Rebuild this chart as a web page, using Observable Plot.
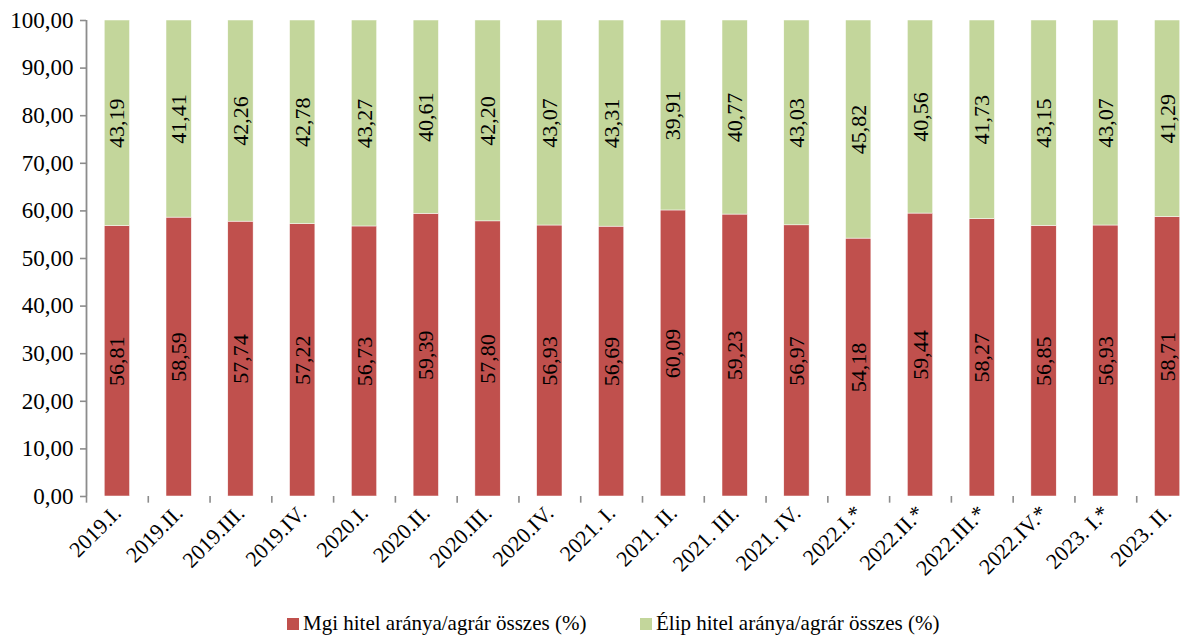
<!DOCTYPE html>
<html>
<head>
<meta charset="utf-8">
<script src="https://cdn.jsdelivr.net/npm/d3@7"></script>
<script src="https://cdn.jsdelivr.net/npm/@observablehq/plot@0.6"></script>
</head>
<body style="margin:0;background:#fff">
<div id="chart"></div>
<div id="legend" style="position:relative;height:35px;font-family:'Liberation Serif';font-size:21px;color:#000"></div>
<script>
const categories = ["2019.I.","2019.II.","2019.III.","2019.IV.","2020.I.","2020.II.","2020.III.","2020.IV.","2021. I.","2021. II.","2021. III.","2021. IV.","2022.I.*","2022.II.*","2022.III.*","2022.IV.*","2023. I.*","2023. II."];
const mgi = [56.81,58.59,57.74,57.22,56.73,59.39,57.80,56.93,56.69,60.09,59.23,56.97,54.18,59.44,58.27,56.85,56.93,58.71];
const elip = [43.19,41.41,42.26,42.78,43.27,40.61,42.20,43.07,43.31,39.91,40.77,43.03,45.82,40.56,41.73,43.15,43.07,41.29];
const seriesNames = ["Mgi hitel aránya/agrár összes (%)", "Élip hitel aránya/agrár összes (%)"];
const colors = ["#C0504D", "#C3D69B"];
const yTicks = [0,10,20,30,40,50,60,70,80,90,100];

const rows = [];
categories.forEach((c, i) => {
  rows.push({cat: c, series: seriesNames[0], y1: 0, y2: mgi[i], v: mgi[i]});
  rows.push({cat: c, series: seriesNames[1], y1: mgi[i], y2: mgi[i] + elip[i], v: elip[i]});
});

const fmt = v => v.toFixed(2).replace(".", ",");
const W = 1185, x0 = 86, x1 = 1198;
const step = (x1 - x0) / categories.length;
const FONT = "Liberation Serif";

const plot = Plot.plot({
  width: W,
  height: 600,
  marginTop: 20,
  marginBottom: 104,
  marginLeft: x0,
  marginRight: 0,
  style: {fontFamily: FONT, fontSize: "21px", color: "#000", background: "#fff", overflow: "hidden"},
  x: {domain: categories, range: [x0, x1], paddingInner: 0.59, paddingOuter: 0.295, round: false, label: null},
  y: {domain: [0, 100], label: null},
  color: {domain: seriesNames, range: colors},
  marks: [
    Plot.ruleY(yTicks, {x1: categories[0], x2: categories[categories.length - 1], insetLeft: -step / 2, insetRight: -step / 2, stroke: "#8c8c8c", strokeWidth: 1.6}),
    Plot.barY(rows, {x: "cat", y1: "y1", y2: "y2", fill: "series", stroke: "#fff", strokeWidth: 0.5}),
    Plot.text(rows, {x: "cat", y: d => (d.y1 + d.y2) / 2, text: d => fmt(d.v), rotate: -90, fontSize: 22, fill: "#000", fontFamily: FONT}),
    Plot.ruleX(categories, {x: d => d, dx: -step / 2, y1: 0, y2: -1.4, stroke: "#8c8c8c", strokeWidth: 1.6}),
    Plot.ruleX([categories[0]], {x: d => d, dx: -step / 2, y1: 0, y2: 100, stroke: "#8c8c8c", strokeWidth: 1.8}),
    Plot.axisY({ticks: yTicks, tickFormat: fmt, tickSize: 6, tickPadding: 7, fontSize: 23, fontFamily: FONT, stroke: "#8c8c8c", strokeWidth: 1.6}),
    Plot.axisX({tickRotate: -45, tickSize: 0, tickPadding: 13, fontSize: 22, fontFamily: FONT, label: null})
  ]
});
document.getElementById("chart").appendChild(plot);

const legend = document.getElementById("legend");
const legendLeft = [287, 640];
seriesNames.forEach((n, i) => {
  const item = document.createElement("div");
  item.style.cssText = `position:absolute;top:11px;left:${legendLeft[i]}px;white-space:nowrap;font-family:'Liberation Serif'`;
  item.innerHTML = `<span style="display:inline-block;width:12px;height:12px;margin-right:4px;background:${colors[i]}"></span>${n}`;
  legend.appendChild(item);
});
</script>
</body>
</html>
